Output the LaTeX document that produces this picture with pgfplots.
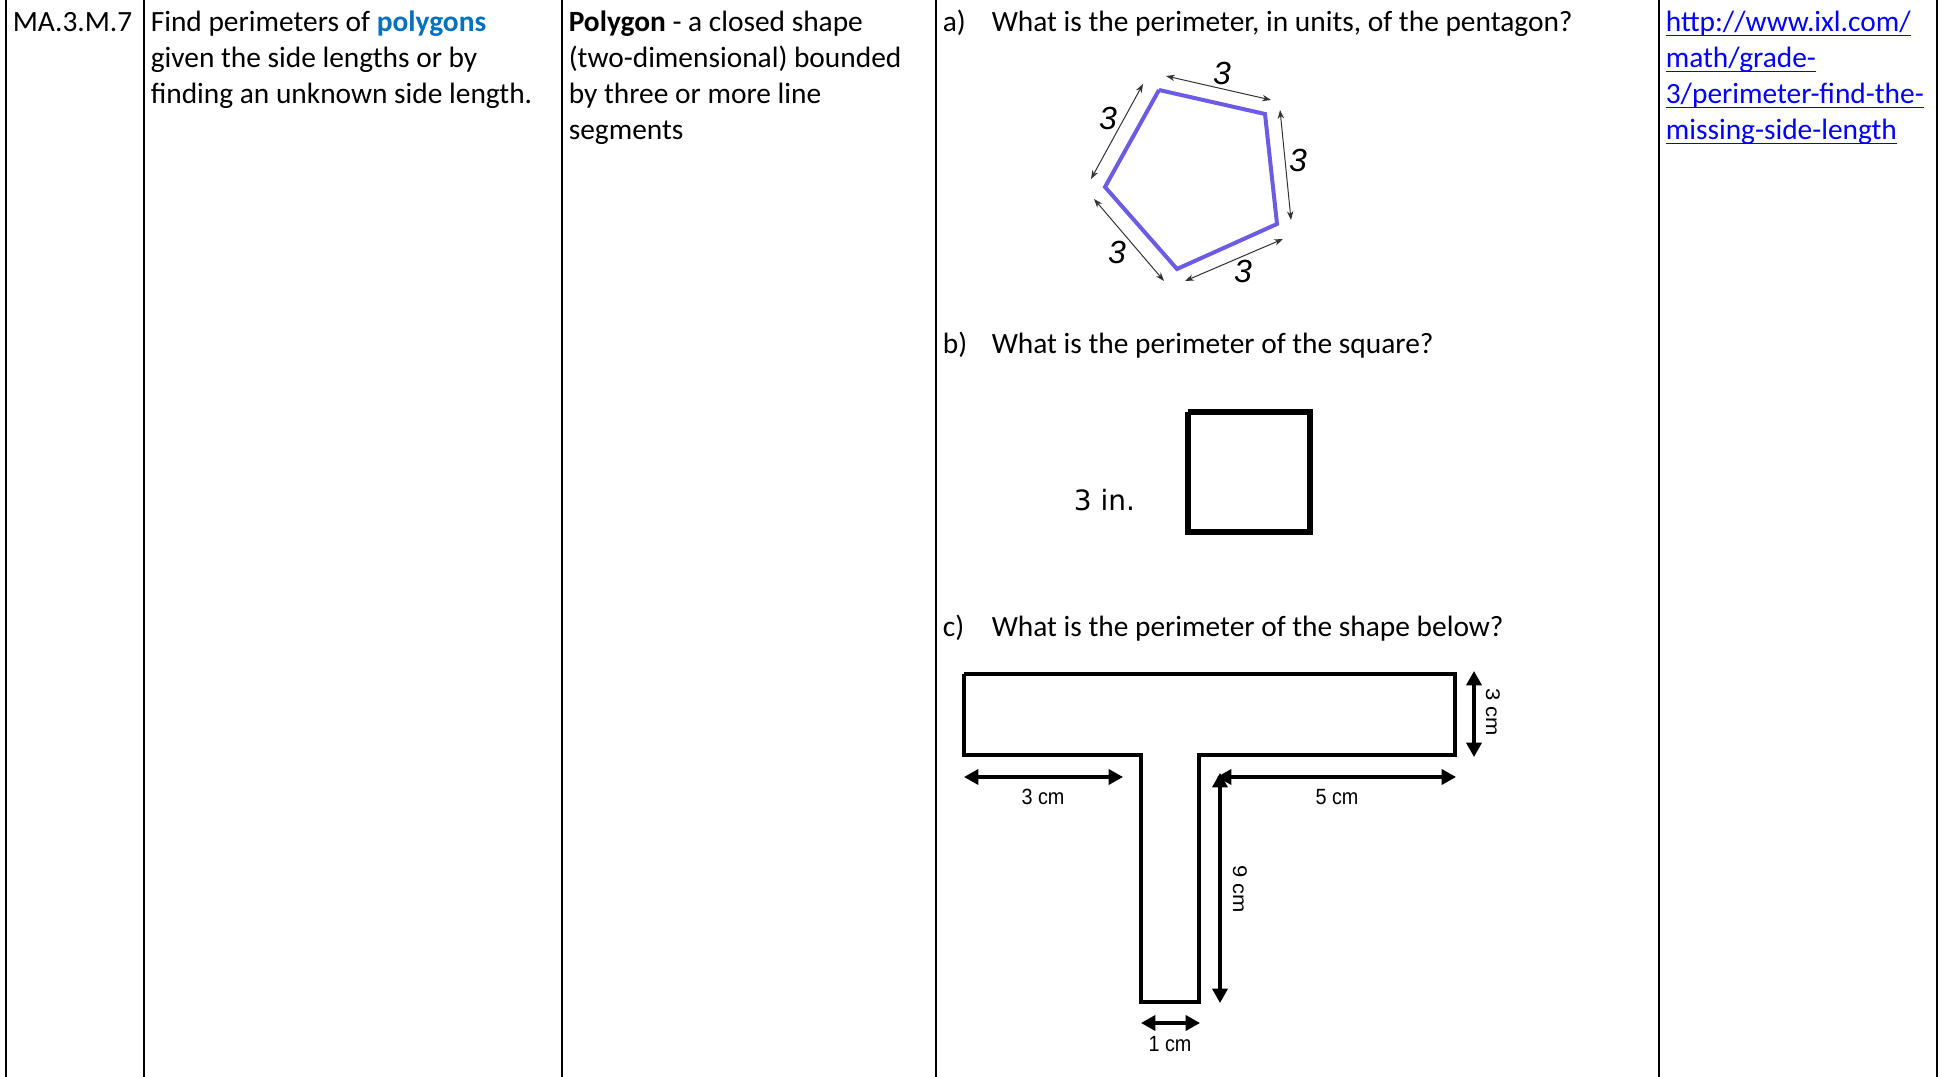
\documentclass[border=0pt]{standalone}
\usepackage{pgfplots}
\pgfplotsset{compat=1.18}
\usetikzlibrary{arrows.meta}
\usepackage{fontspec}
\setmainfont{Carlito}
\newfontfamily\arialf{Liberation Sans}
\newfontfamily\dejaf{DejaVu Sans}
\definecolor{polyblue}{RGB}{0,112,192}
\definecolor{linkblue}{RGB}{0,0,255}
\definecolor{pentcol}{RGB}{108,92,228}
\newcommand\ulx[1]{\setbox0\hbox{#1}\rlap{\rule[-1.1pt]{\wd0}{0.4pt}}\box0}
\begin{document}
\begin{tikzpicture}
\begin{axis}[
  scale only axis, width=486pt, height=269.25pt,
  xmin=0, xmax=1944, ymin=-2, ymax=1075, y dir=reverse,
  hide axis, clip=false]
% table vertical rules
\addplot[black, line width=0.55pt] coordinates {(6,-2) (6,1075)};
\addplot[black, line width=0.55pt] coordinates {(144,-2) (144,1075)};
\addplot[black, line width=0.55pt] coordinates {(562,-2) (562,1075)};
\addplot[black, line width=0.55pt] coordinates {(936,-2) (936,1075)};
\addplot[black, line width=0.55pt] coordinates {(1659,-2) (1659,1075)};
\addplot[black, line width=0.55pt] coordinates {(1937,-2) (1937,1075)};
% texts
\tikzset{tx/.style={anchor=base west, inner sep=0pt, font=\fontsize{7.35pt}{9pt}\selectfont}}
\node[tx] at (axis cs:12,30) {MA.3.M.7};
\node[tx] at (axis cs:150,30) {Find perimeters of \textbf{\color{polyblue}polygons}};
\node[tx] at (axis cs:150,66) {given the side lengths or by};
\node[tx] at (axis cs:150,102) {finding an unknown side length.};
\node[tx] at (axis cs:568,30) {\textbf{Polygon} - a closed shape};
\node[tx] at (axis cs:568,66) {(two-dimensional) bounded};
\node[tx] at (axis cs:568,102) {by three or more line};
\node[tx] at (axis cs:568,138) {segments};
\node[tx] at (axis cs:942,30) {a)};
\node[tx] at (axis cs:991,30) {What is the perimeter, in units, of the pentagon?};
\node[tx] at (axis cs:942,352) {b)};
\node[tx] at (axis cs:991,352) {What is the perimeter of the square?};
\node[tx] at (axis cs:942,635) {c)};
\node[tx] at (axis cs:991,635) {What is the perimeter of the shape below?};
\node[tx, text=linkblue] at (axis cs:1665,30) {\ulx{http://www.ixl.com/}};
\node[tx, text=linkblue] at (axis cs:1665,66) {\ulx{math/grade-}};
\node[tx, text=linkblue] at (axis cs:1665,102) {\ulx{3/perimeter-find-the-}};
\node[tx, text=linkblue] at (axis cs:1665,138) {\ulx{missing-side-length}};
% pentagon
\addplot[pentcol, line width=1pt, line join=miter] coordinates {(1159,88) (1265,112) (1277,222) (1177,267) (1105,185) (1159,88)};
\tikzset{thin arr/.style={black!80, line width=0.25pt, {Stealth[length=2.2pt,width=1.6pt]}-{Stealth[length=2.2pt,width=1.6pt]}}}
\addplot[thin arr] coordinates {(1166,74) (1271,98)};
\addplot[thin arr] coordinates {(1143,82) (1091,177)};
\addplot[thin arr] coordinates {(1280,108) (1291,218)};
\addplot[thin arr] coordinates {(1094,197) (1164,279)};
\addplot[thin arr] coordinates {(1185,279) (1283,237)};
\tikzset{pl/.style={inner sep=0pt, font=\arialf\itshape\fontsize{8pt}{9pt}\selectfont}}
\node[pl] at (axis cs:1222,71) {3};
\node[pl] at (axis cs:1108,116) {3};
\node[pl] at (axis cs:1298,158) {3};
\node[pl] at (axis cs:1117,250) {3};
\node[pl] at (axis cs:1243,269) {3};
% square
\addplot[black, line width=1.5pt, line join=miter] coordinates {(1188,410) (1310,410) (1310,530) (1188,530) (1188,410)};
\node[anchor=base west, inner sep=0pt, font=\dejaf\fontsize{7pt}{8pt}\selectfont] at (axis cs:1073,509) {3 in.};
% T shape
\addplot[black, line width=0.8pt, line join=miter] coordinates {(964,672) (1455,672) (1455,753) (1199,753) (1199,1000) (1141,1000) (1141,753) (964,753) (964,672)};
\tikzset{thick arr/.style={black, line width=0.8pt, {Triangle[length=3.6pt,width=3.8pt]}-{Triangle[length=3.6pt,width=3.8pt]}}}
\addplot[thick arr] coordinates {(964,775) (1123,775)};
\addplot[thick arr] coordinates {(1217,775) (1456,775)};
\addplot[thick arr] coordinates {(1220,771) (1220,1001)};
\addplot[thick arr] coordinates {(1474,669) (1474,755)};
\addplot[thick arr] coordinates {(1141,1021) (1200,1021)};
\tikzset{tl/.style={inner sep=0pt, xscale=0.9, font=\arialf\fontsize{5.5pt}{7pt}\selectfont}}
\node[tl] at (axis cs:1043,795) {3 cm};
\node[tl] at (axis cs:1337,795) {5 cm};
\node[tl] at (axis cs:1170,1042) {1 cm};
\node[tl, rotate=-90] at (axis cs:1240,887) {9 cm};
\node[tl, rotate=-90] at (axis cs:1493,710) {3 cm};
\end{axis}
\pgfresetboundingbox
\path (current axis.south west) rectangle (current axis.north east);
\end{tikzpicture}
\end{document}
